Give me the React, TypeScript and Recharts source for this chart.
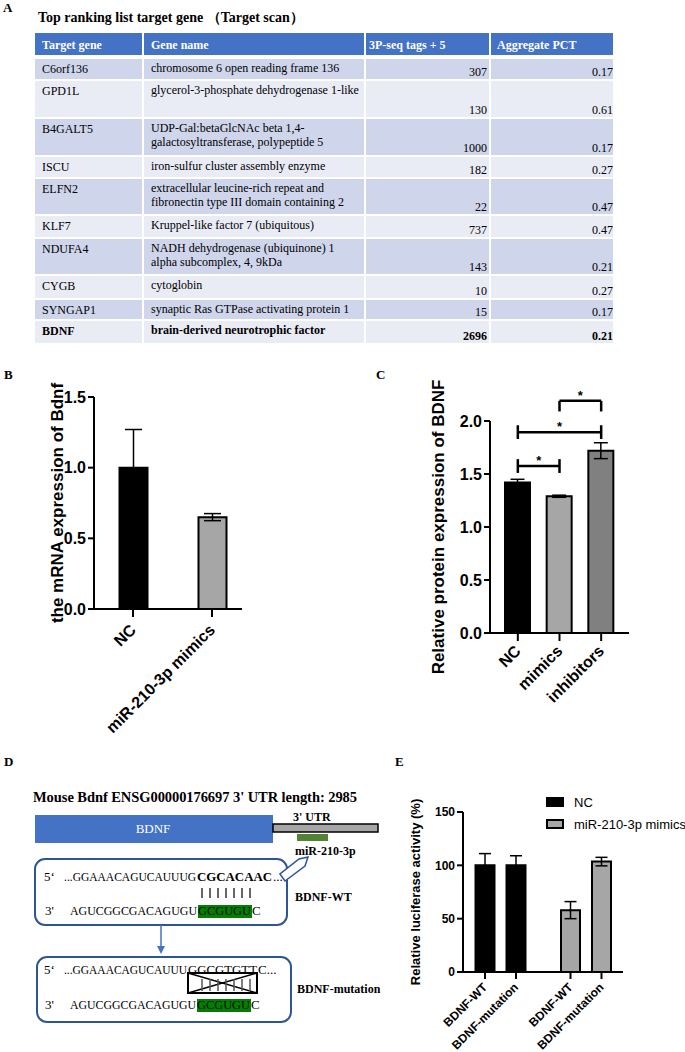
import {
    Bar,
    BarChart,
    Cell,
    ErrorBar,
    LabelList,
    Legend,
    ReferenceLine,
    XAxis,
    YAxis,
} from 'recharts';

const SANS = '"Liberation Sans", Arial, sans-serif';
const SERIF = '"Liberation Serif", "Times New Roman", serif';
const BLUE = '#4472c4';
const FRAME = '#2f5597';

// A: TargetScan top list
const tableHeader = ['Target gene', 'Gene name', '3P-seq tags + 5', 'Aggregate PCT'];
const targetGenes = ['C6orf136', 'GPD1L', 'B4GALT5', 'ISCU', 'ELFN2', 'KLF7', 'NDUFA4', 'CYGB', 'SYNGAP1', 'BDNF'];
const geneNames = [
    ['chromosome 6 open reading frame 136'],
    ['glycerol-3-phosphate dehydrogenase 1-like'],
    ['UDP-Gal:betaGlcNAc beta 1,4-', 'galactosyltransferase, polypeptide 5'],
    ['iron-sulfur cluster assembly enzyme'],
    ['extracellular leucine-rich repeat and', 'fibronectin type III domain containing 2'],
    ['Kruppel-like factor 7 (ubiquitous)'],
    ['NADH dehydrogenase (ubiquinone) 1', 'alpha subcomplex, 4, 9kDa'],
    ['cytoglobin'],
    ['synaptic Ras GTPase activating protein 1'],
    ['brain-derived neurotrophic factor'],
];
const seqTags = [307, 130, 1000, 182, 22, 737, 143, 10, 15, 2696];
const aggregatePct = ['0.17', '0.61', '0.17', '0.27', '0.47', '0.47', '0.21', '0.27', '0.17', '0.21'];

// B: Bdnf mRNA (qPCR)
const mrnaGroups = ['NC', 'miR-210-3p mimics'];
const mrnaMean = [1.0, 0.65];
const mrnaSem = [0.27, 0.025];
const mrnaTicks = [0, 0.5, 1.0, 1.5];

// C: BDNF protein
const proteinGroups = ['NC', 'mimics', 'inhibitors'];
const proteinMean = [1.42, 1.29, 1.72];
const proteinSem = [0.03, 0.01, 0.075];
const proteinTicks = [0, 0.5, 1.0, 1.5, 2.0];
const sigFrom = ['NC', 'NC', 'mimics'];
const sigTo = ['mimics', 'inhibitors', 'inhibitors'];
const sigLevel = [1.575, 1.895, 2.19];
const sigMark = ['*', '*', '*'];

// E: dual luciferase
const lucGroups = ['NC', 'miR-210-3p mimics'];
const lucConstructs = ['BDNF-WT', 'BDNF-mutation'];
const lucWt = [100, 58];
const lucWtSem = [11, 8];
const lucMut = [100, 103.5];
const lucMutSem = [9, 4];
const lucTicks = [0, 50, 100, 150];

const twoFill = ['#000000', '#a6a6a6'];
const threeFill = ['#000000', '#a6a6a6', '#808080'];

// table layout
const colEdges = [35, 143, 365, 490, 613];
const colPad = [7, 7, 3, 6];
const rowHeights = [20, 36, 36, 20, 35, 21, 35, 22, 19, 22];
const rowFill = ['#cfd5ea', '#e9ebf5'];

const axisStroke = { stroke: '#000', strokeWidth: 2 };

function PanelLetter({ x, y, children }: { x: number; y: number; children: string }) {
    return (
        <div style={{ position: 'absolute', left: x, top: y, fontFamily: SERIF, fontWeight: 700, fontSize: 13, lineHeight: '14px' }}>
            {children}
        </div>
    );
}

function TargetTable() {
    let cursor = 59;
    const tops = rowHeights.map((h) => {
        const t = cursor;
        cursor += h + 2;
        return t;
    });
    const cell = (c: number, top: number, h: number, bg: string) => ({
        position: 'absolute' as const,
        left: colEdges[c] + (c > 0 ? 1 : 0),
        width: colEdges[c + 1] - colEdges[c] - (c > 0 ? 1 : 0) - (c < 3 ? 1 : 0),
        top,
        height: h,
        background: bg,
        boxSizing: 'border-box' as const,
    });
    return (
        <div style={{ fontFamily: SERIF, fontSize: 12, lineHeight: '14px', color: '#000' }}>
            <div style={{ position: 'absolute', left: 38, top: 11, fontWeight: 700, fontSize: 14 }}>
                Top ranking list target gene （Target scan）
            </div>
            {tableHeader.map((h, c) => (
                <div key={h} style={{ ...cell(c, 33, 22, BLUE), color: '#fff', fontWeight: 700, paddingLeft: colPad[c], paddingTop: 5 }}>
                    {h}
                </div>
            ))}
            {targetGenes.map((g, r) => {
                const bg = rowFill[r % 2];
                const bold = g === 'BDNF' ? 700 : 400;
                const top = tops[r];
                const h = rowHeights[r];
                return (
                    <div key={g} style={{ fontWeight: bold }}>
                        <div style={{ ...cell(0, top, h, bg), paddingLeft: colPad[0], paddingTop: 3 }}>{g}</div>
                        <div style={{ ...cell(1, top, h, bg), paddingLeft: colPad[1], paddingTop: 2 }}>
                            {geneNames[r].map((line) => (
                                <div key={line}>{line}</div>
                            ))}
                        </div>
                        <div style={{ ...cell(2, top, h, bg) }}>
                            <span style={{ position: 'absolute', right: 2, bottom: 0 }}>{seqTags[r]}</span>
                        </div>
                        <div style={{ ...cell(3, top, h, bg) }}>
                            <span style={{ position: 'absolute', right: 0, bottom: 0 }}>{aggregatePct[r]}</span>
                        </div>
                    </div>
                );
            })}
        </div>
    );
}

function SlantTick(props: any) {
    const { x, y, payload, size } = props;
    return (
        <text
            x={x}
            y={y}
            dy="0.35em"
            textAnchor="end"
            transform={`rotate(-45 ${x} ${y})`}
            fontFamily={SANS}
            fontWeight={700}
            fontSize={size}
            fill="#000"
        >
            {payload.value}
        </text>
    );
}

function MrnaChart() {
    const rows = mrnaGroups.map((g, i) => ({ group: g, mean: mrnaMean[i], sem: mrnaSem[i] }));
    return (
        <BarChart width={260} height={370} data={rows} margin={{ top: 27, right: 18, bottom: 0, left: 34 }}>
            <XAxis
                dataKey="group"
                height={131}
                axisLine={axisStroke}
                tickLine={axisStroke}
                tickSize={8}
                tickMargin={10}
                padding={{ left: -0.5, right: -9.5 }}
                interval={0}
                tick={(p: any) => <SlantTick {...p} size={16} />}
            />
            <YAxis
                width={60}
                domain={[0, 1.5]}
                allowDataOverflow
                ticks={mrnaTicks}
                tickFormatter={(v: number) => v.toFixed(1)}
                axisLine={axisStroke}
                tickLine={axisStroke}
                tickSize={6}
                tickMargin={2}
                tick={{ fontFamily: SANS, fontWeight: 700, fontSize: 16, fill: '#000' }}
                label={{
                    value: 'the mRNA expression of Bdnf',
                    angle: -90,
                    position: 'insideLeft',
                    offset: 23,
                    fontFamily: SANS,
                    fontWeight: 700,
                    fontSize: 17,
                    fill: '#000',
                    style: { textAnchor: 'middle' },
                }}
            />
            <Bar dataKey="mean" barSize={28} stroke="#000" strokeWidth={2} isAnimationActive={false}>
                {rows.map((r, i) => (
                    <Cell key={r.group} fill={twoFill[i]} />
                ))}
                <ErrorBar dataKey="sem" width={8.5} stroke="#000" strokeWidth={1.5} isAnimationActive={false} />
            </Bar>
        </BarChart>
    );
}

function ProteinChart() {
    const rows = proteinGroups.map((g, i) => ({ group: g, mean: proteinMean[i], sem: proteinSem[i] }));
    const starLabel = (mark: string) => ({
        value: mark,
        position: 'top' as const,
        offset: 1,
        fontFamily: SANS,
        fontWeight: 700,
        fontSize: 13,
        fill: '#000',
    });
    return (
        <BarChart width={300} height={370} data={rows} margin={{ top: 51, right: 11, bottom: 0, left: 80 }}>
            <XAxis
                dataKey="group"
                height={107}
                axisLine={axisStroke}
                tickLine={axisStroke}
                tickSize={8}
                tickMargin={7}
                padding={{ left: 7, right: 7 }}
                interval={0}
                tick={(p: any) => <SlantTick {...p} size={16} />}
            />
            <YAxis
                width={70}
                domain={[0, 2]}
                allowDataOverflow
                ticks={proteinTicks}
                tickFormatter={(v: number) => v.toFixed(1)}
                axisLine={axisStroke}
                tickLine={axisStroke}
                tickSize={6}
                tickMargin={2}
                tick={{ fontFamily: SANS, fontWeight: 700, fontSize: 16, fill: '#000' }}
                label={{
                    value: 'Relative protein expression of BDNF',
                    angle: -90,
                    position: 'insideLeft',
                    offset: 18,
                    fontFamily: SANS,
                    fontWeight: 700,
                    fontSize: 17,
                    fill: '#000',
                    style: { textAnchor: 'middle' },
                }}
            />
            <Bar dataKey="mean" barSize={25} stroke="#000" strokeWidth={2} isAnimationActive={false}>
                {rows.map((r, i) => (
                    <Cell key={r.group} fill={threeFill[i]} />
                ))}
                <ErrorBar dataKey="sem" width={7} stroke="#000" strokeWidth={1.5} isAnimationActive={false} />
            </Bar>
            {sigLevel.map((lvl, i) => {
                const hook = i === 2;
                const lo = hook ? lvl - 0.1 : lvl - 0.065;
                const hi = hook ? lvl : lvl + 0.065;
                return [
                    <ReferenceLine
                        key={`h${i}`}
                        segment={[{ x: sigFrom[i], y: lvl }, { x: sigTo[i], y: lvl }]}
                        stroke="#000"
                        strokeWidth={2.5}
                        ifOverflow="visible"
                        label={starLabel(sigMark[i])}
                    />,
                    <ReferenceLine
                        key={`l${i}`}
                        segment={[{ x: sigFrom[i], y: lo }, { x: sigFrom[i], y: hi }]}
                        stroke="#000"
                        strokeWidth={2.5}
                        ifOverflow="visible"
                    />,
                    <ReferenceLine
                        key={`r${i}`}
                        segment={[{ x: sigTo[i], y: lo }, { x: sigTo[i], y: hi }]}
                        stroke="#000"
                        strokeWidth={2.5}
                        ifOverflow="visible"
                    />,
                ];
            })}
        </BarChart>
    );
}

function BarFoot(props: any) {
    const vb = props.viewBox ?? props;
    const { x, y, width, height } = vb;
    const cx = x + width / 2;
    const base = y + height;
    const ty = base + 13;
    return (
        <g>
            <line x1={cx} x2={cx} y1={base} y2={base + 7} stroke="#000" strokeWidth={2} />
            <text
                x={cx}
                y={ty}
                dy="0.35em"
                textAnchor="end"
                transform={`rotate(-45 ${cx} ${ty})`}
                fontFamily={SANS}
                fontWeight={700}
                fontSize={12}
                fill="#000"
            >
                {props.text}
            </text>
        </g>
    );
}

function LucLegend() {
    return (
        <div style={{ fontFamily: SANS, fontSize: 13, color: '#000' }}>
            {lucGroups.map((g, i) => (
                <div key={g} style={{ display: 'flex', alignItems: 'center', height: 22, whiteSpace: 'nowrap' }}>
                    <span
                        style={{
                            display: 'inline-block',
                            width: 14,
                            height: 6,
                            background: twoFill[i],
                            border: '2px solid #000',
                            marginRight: 10,
                        }}
                    />
                    {g}
                </div>
            ))}
        </div>
    );
}

function LuciferaseChart() {
    const rows = lucGroups.map((g, i) => ({
        group: g,
        wt: lucWt[i],
        wtSem: lucWtSem[i],
        mut: lucMut[i],
        mutSem: lucMutSem[i],
    }));
    return (
        <BarChart width={290} height={272} data={rows} barGap={12} margin={{ top: 32, right: 62, bottom: 0, left: 8 }}>
            <XAxis
                dataKey="group"
                height={80}
                axisLine={axisStroke}
                tick={false}
                tickLine={false}
                padding={{ left: -5.5, right: -5.5 }}
            />
            <YAxis
                width={60}
                domain={[0, 150]}
                allowDataOverflow
                ticks={lucTicks}
                axisLine={axisStroke}
                tickLine={axisStroke}
                tickSize={6}
                tickMargin={2}
                tick={{ fontFamily: SANS, fontWeight: 700, fontSize: 12, fill: '#000' }}
                label={{
                    value: 'Relative luciferase activity (%)',
                    angle: -90,
                    position: 'insideLeft',
                    offset: 12,
                    fontFamily: SANS,
                    fontWeight: 700,
                    fontSize: 13,
                    fill: '#000',
                    style: { textAnchor: 'middle' },
                }}
            />
            <Legend
                layout="vertical"
                align="center"
                verticalAlign="middle"
                wrapperStyle={{ left: 151, top: 11, width: 140 }}
                content={() => <LucLegend />}
            />
            <Bar dataKey="wt" barSize={19} stroke="#000" strokeWidth={2} isAnimationActive={false}>
                {rows.map((r, i) => (
                    <Cell key={r.group} fill={twoFill[i]} />
                ))}
                <ErrorBar dataKey="wtSem" width={6} stroke="#000" strokeWidth={1.5} isAnimationActive={false} />
                <LabelList dataKey="wt" content={(p: any) => <BarFoot {...p} text={lucConstructs[0]} />} />
            </Bar>
            <Bar dataKey="mut" barSize={19} stroke="#000" strokeWidth={2} isAnimationActive={false}>
                {rows.map((r, i) => (
                    <Cell key={r.group} fill={twoFill[i]} />
                ))}
                <ErrorBar dataKey="mutSem" width={6} stroke="#000" strokeWidth={1.5} isAnimationActive={false} />
                <LabelList dataKey="mut" content={(p: any) => <BarFoot {...p} text={lucConstructs[1]} />} />
            </Bar>
        </BarChart>
    );
}

function PairBars({ y1, y2, color }: { y1: number; y2: number; color: string }) {
    const xs = [202, 210, 218, 226, 234, 242, 250];
    return (
        <g>
            {xs.map((x) => (
                <line key={x} x1={x} x2={x} y1={y1} y2={y2} stroke={color} strokeWidth={1.5} />
            ))}
        </g>
    );
}

function ReporterDiagram() {
    const seq = { fontFamily: SERIF, fontSize: 13, fill: '#000' };
    const bold = { fontFamily: SERIF, fontSize: 12, fontWeight: 700, fill: '#000' };
    return (
        <svg width={400} height={297} viewBox="0 755 400 297" style={{ position: 'absolute', left: 0, top: 755 }}>
            <text x={33} y={802} {...bold} fontSize={14.5} textLength={324}>
                Mouse Bdnf ENSG00000176697 3' UTR length: 2985
            </text>
            <rect x={35} y={815} width={238} height={28} fill={BLUE} />
            <text x={153} y={833} textAnchor="middle" fontFamily={SERIF} fontSize={13} fill="#fff">
                BDNF
            </text>
            <rect x={273} y={824} width={105} height={8} fill="#a6a6a6" stroke="#000" strokeWidth={1.5} />
            <text x={293} y={821} {...bold}>
                3' UTR
            </text>
            <rect x={297} y={834} width={31} height={7} fill="#548235" />
            <text x={295} y={855} {...bold}>
                miR-210-3p
            </text>

            <rect x={35} y={859} width={252} height={66} rx={10} fill="#fff" stroke={FRAME} strokeWidth={2} />
            <polygon points="280,874 285,881 305,866 308,857 299,859" fill="#fff" stroke={FRAME} strokeWidth={1.5} />
            <text x={44} y={881} {...seq}>5‘</text>
            <text x={64} y={881} {...seq} textLength={132} lengthAdjust="spacingAndGlyphs">
                ...GGAAACAGUCAUUUG
            </text>
            <text x={197} y={881} {...seq} fontWeight={700} textLength={75} lengthAdjust="spacingAndGlyphs">
                CGCACAAC
            </text>
            <text x={273} y={881} {...seq}>...</text>
            <PairBars y1={888} y2={898} color="#333" />
            <text x={45} y={915} {...seq}>3'</text>
            <text x={70} y={915} {...seq} textLength={127} lengthAdjust="spacingAndGlyphs">
                AGUCGGCGACAGUGU
            </text>
            <rect x={198} y={905} width={54} height={13} fill="#008000" />
            <text x={198} y={915} {...seq} textLength={53} lengthAdjust="spacingAndGlyphs">
                GCGUGU
            </text>
            <text x={252} y={915} {...seq}>C</text>
            <text x={295} y={901} {...bold}>
                BDNF-WT
            </text>

            <line x1={161} x2={161} y1={925} y2={947} stroke={BLUE} strokeWidth={1.5} />
            <polygon points="157,946 165,946 161,954" fill={BLUE} />

            <rect x={37} y={957} width={254} height={65} rx={10} fill="#fff" stroke={FRAME} strokeWidth={2} />
            <text x={44} y={974} {...seq}>5‘</text>
            <text x={64} y={974} {...seq} textLength={123} lengthAdjust="spacingAndGlyphs">
                ...GGAAACAGUCAUUU
            </text>
            <text x={188} y={974} {...seq} textLength={69} lengthAdjust="spacingAndGlyphs">
                GGCGTGTT
            </text>
            <text x={258} y={974} {...seq}>C...</text>
            <rect x={188} y={973} width={69} height={20} fill="none" stroke="#000" strokeWidth={2} />
            <line x1={188} y1={973} x2={257} y2={993} stroke="#000" strokeWidth={1.5} />
            <line x1={188} y1={993} x2={257} y2={973} stroke="#000" strokeWidth={1.5} />
            <PairBars y1={979} y2={991} color="#555" />
            <text x={45} y={1009} {...seq}>3'</text>
            <text x={70} y={1009} {...seq} textLength={126} lengthAdjust="spacingAndGlyphs">
                AGUCGGCGACAGUGU
            </text>
            <rect x={197} y={999} width={54} height={13} fill="#008000" />
            <text x={197} y={1009} {...seq} textLength={53} lengthAdjust="spacingAndGlyphs">
                GCGUGU
            </text>
            <text x={251} y={1009} {...seq}>C</text>
            <text x={297} y={993} {...bold}>
                BDNF-mutation
            </text>
        </svg>
    );
}

export default function App() {
    return (
        <div
            style={{
                position: 'absolute',
                left: 0,
                top: 0,
                width: 685,
                height: 1052,
                background: '#fff',
                overflow: 'hidden',
            }}
        >
            <PanelLetter x={3} y={1}>A</PanelLetter>
            <TargetTable />
            <PanelLetter x={4} y={368}>B</PanelLetter>
            <PanelLetter x={376} y={368}>C</PanelLetter>
            <div style={{ position: 'absolute', left: 0, top: 370 }}>
                <MrnaChart />
            </div>
            <div style={{ position: 'absolute', left: 340, top: 370 }}>
                <ProteinChart />
            </div>
            <PanelLetter x={4} y={755}>D</PanelLetter>
            <PanelLetter x={395} y={755}>E</PanelLetter>
            <ReporterDiagram />
            <div style={{ position: 'absolute', left: 395, top: 780 }}>
                <LuciferaseChart />
            </div>
        </div>
    );
}
